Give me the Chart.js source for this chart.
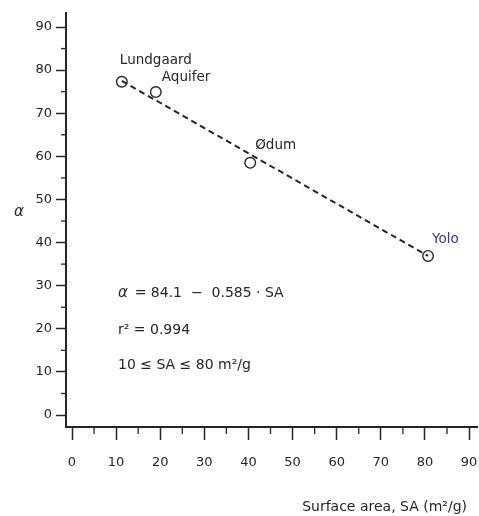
<!DOCTYPE html>
<html>
<head>
<meta charset="utf-8">
<script src="https://cdn.jsdelivr.net/npm/chart.js@4"></script>
<style>
  body { margin: 0; background: #fff; }
  #wrap { width: 479px; height: 516px; }
</style>
</head>
<body>
<div id="wrap"><canvas id="chart" width="479" height="516"></canvas></div>
<script>
// data
var siteNames = ["Lundgaard", "Aquifer", "\u00d8dum", "Yolo"];
var surfaceArea = [11.3, 19.0, 40.4, 80.7];
var alphaValues = [77.3, 74.9, 58.5, 36.9];

// fitted line  alpha = 84.1 - 0.585 * SA, drawn between the end samples
var fitSA = [11.3, 80.7];
var fitAlpha = [77.5, 36.9];

var xMinorTicks = [5, 15, 25, 35, 45, 55, 65, 75, 85];
var yMinorTicks = [5, 15, 25, 35, 45, 55, 65, 75, 85];

var equationLines = ["= 84.1  \u2212  0.585 \u00b7 SA", "r\u00b2 = 0.994", "10 \u2264 SA \u2264 80 m\u00b2/g"];
var xTitle = "Surface area, SA (m\u00b2/g)";
var yTitle = "\u03b1";

// label offsets (pixels) for each site name
var labelOffsets = [[-2, -21], [6, -15], [5, -17], [4, -16]];
var labelColors = ["#262626", "#262626", "#262626", "#3a3a8a"];

var INK = "#262626";
var FONT = '"DejaVu Sans", sans-serif';

function toPoints(xs, ys) {
  return xs.map(function(x, i) { return { x: x, y: ys[i] }; });
}

// draws minor ticks, site names, equation block and axis titles
var extrasPlugin = {
  id: "extras",
  afterDraw: function(chart) {
    var ctx = chart.ctx;
    var xs = chart.scales.x;
    var ys = chart.scales.y;
    var area = chart.chartArea;
    ctx.save();
    ctx.strokeStyle = INK;
    ctx.lineWidth = 1.3;
    // minor ticks
    xMinorTicks.forEach(function(v) {
      var px = xs.getPixelForValue(v);
      ctx.beginPath();
      ctx.moveTo(px, area.bottom);
      ctx.lineTo(px, area.bottom + 7);
      ctx.stroke();
    });
    yMinorTicks.forEach(function(v) {
      var py = ys.getPixelForValue(v);
      ctx.beginPath();
      ctx.moveTo(area.left, py);
      ctx.lineTo(area.left - 5, py);
      ctx.stroke();
    });

    // site labels
    ctx.font = "13.5px " + FONT;
    ctx.textAlign = "left";
    ctx.textBaseline = "middle";
    siteNames.forEach(function(name, i) {
      var px = xs.getPixelForValue(surfaceArea[i]);
      var py = ys.getPixelForValue(alphaValues[i]);
      ctx.fillStyle = labelColors[i];
      ctx.fillText(name, px + labelOffsets[i][0], py + labelOffsets[i][1]);
    });

    // equation block
    var ex = area.left + 52;
    var ey = area.top + 280;
    ctx.fillStyle = INK;
    ctx.font = "italic 15px " + FONT;
    ctx.fillText("\u03b1", ex, ey);
    var aw = ctx.measureText("\u03b1 ").width;
    ctx.font = "14px " + FONT;
    ctx.fillText(equationLines[0], ex + aw + 2, ey);
    ctx.fillText(equationLines[1], ex, ey + 37);
    ctx.fillText(equationLines[2], ex, ey + 72);

    // axis titles
    ctx.font = "14px " + FONT;
    ctx.textAlign = "right";
    ctx.fillText(xTitle, area.right - 10, 507);
    ctx.font = "italic 15px " + FONT;
    ctx.textAlign = "center";
    ctx.fillText(yTitle, 19, 212);
    ctx.restore();
  }
};

new Chart(document.getElementById("chart"), {
  type: "scatter",
  data: {
    datasets: [
      {
        data: toPoints(fitSA, fitAlpha),
        showLine: true,
        borderColor: INK,
        borderWidth: 2,
        borderDash: [6, 4],
        pointRadius: 0
      },
      {
        data: toPoints(surfaceArea, alphaValues),
        pointRadius: 5.3,
        pointBorderWidth: 1.4,
        pointBorderColor: INK,
        pointBackgroundColor: "#fff"
      },
      {
        data: toPoints(surfaceArea, alphaValues),
        pointRadius: 1.3,
        pointBorderWidth: 0,
        pointBackgroundColor: INK
      }
    ]
  },
  options: {
    responsive: false,
    animation: false,
    events: [],
    layout: { autoPadding: false, padding: { top: 13, right: 2, left: 0, bottom: 0 } },
    plugins: { legend: { display: false }, tooltip: { enabled: false } },
    scales: {
      x: {
        type: "linear",
        min: -1.36,
        max: 91.8,
        afterFit: function(scale) {
          scale.height = 89;
          scale.paddingLeft = 0;
          scale.paddingRight = 0;
        },
        border: { display: true, color: INK, width: 2 },
        grid: { drawOnChartArea: false, drawTicks: true, tickLength: 13, color: INK, tickWidth: 1.5 },
        ticks: {
          stepSize: 10,
          includeBounds: false,
          padding: 15,
          color: INK,
          font: { family: FONT, size: 13 },
          maxRotation: 0
        }
      },
      y: {
        type: "linear",
        min: -2.78,
        max: 93.25,
        afterFit: function(scale) {
          scale.width = 66;
          scale.paddingTop = 0;
          scale.paddingBottom = 0;
        },
        border: { display: true, color: INK, width: 2 },
        grid: { drawOnChartArea: false, drawTicks: true, tickLength: 10, color: INK, tickWidth: 1.5 },
        ticks: {
          stepSize: 10,
          includeBounds: false,
          padding: 4,
          color: INK,
          font: { family: FONT, size: 13 }
        }
      }
    }
  },
  plugins: [extrasPlugin]
});
</script>
</body>
</html>
